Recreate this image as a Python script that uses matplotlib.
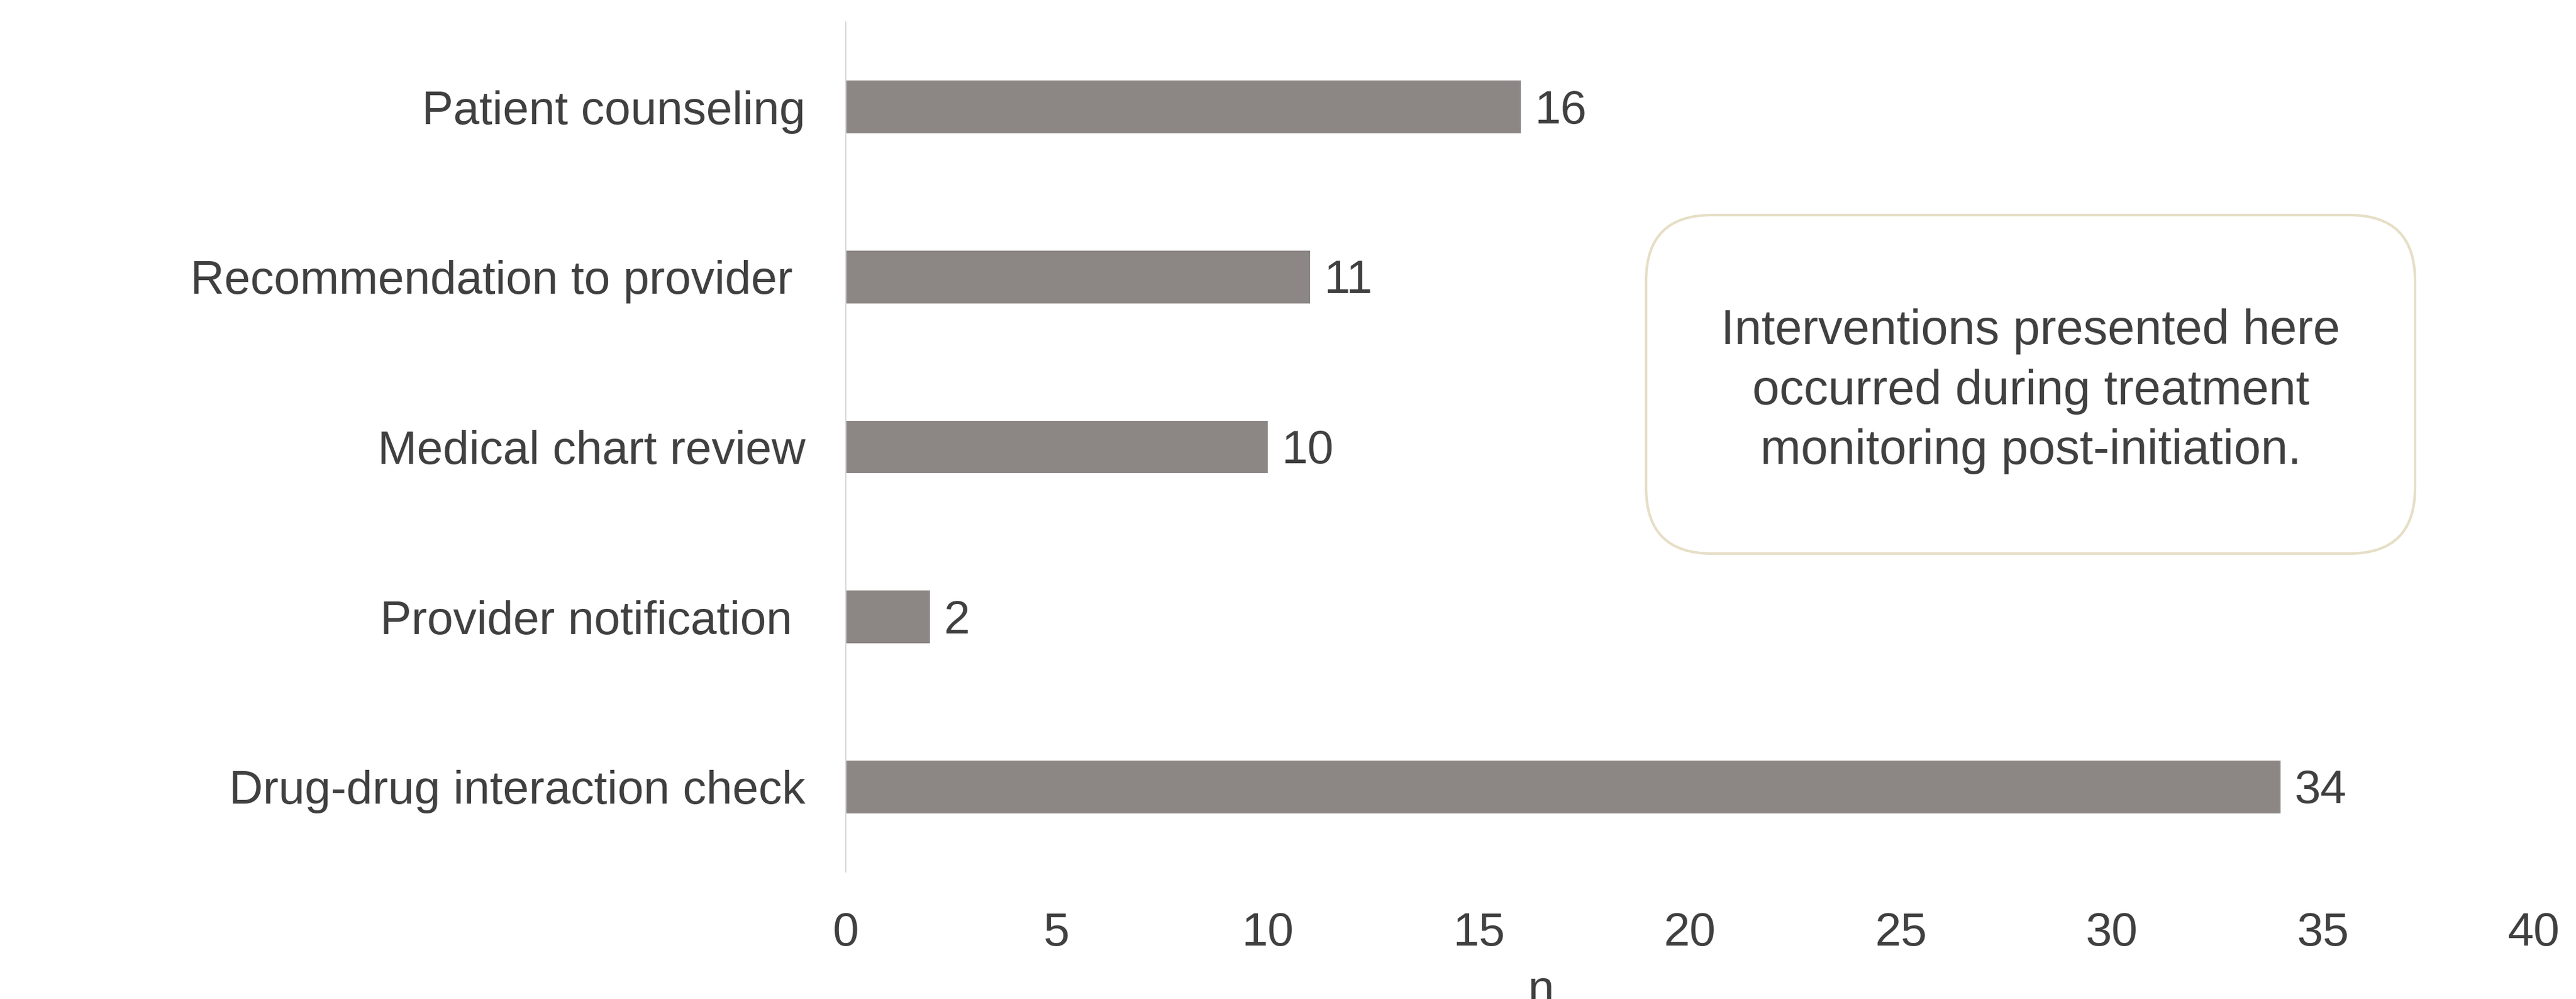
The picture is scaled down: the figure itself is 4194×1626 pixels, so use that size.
import matplotlib
matplotlib.use("Agg")
import matplotlib.pyplot as plt
from matplotlib.patches import FancyBboxPatch

# data
categories = ["Patient counseling", "Recommendation to provider ", "Medical chart review",
              "Provider notification ", "Drug-drug interaction check"]
counts = [16, 11, 10, 2, 34]
xticks = [0, 5, 10, 15, 20, 25, 30, 35, 40]
note = "Interventions presented here\noccurred during treatment\nmonitoring post-initiation."

text_col = "#404040"
bar_col = "#8C8685"

plt.rcParams['font.family'] = ['Liberation Sans', 'DejaVu Sans']

fig = plt.figure(figsize=(41.94, 16.26), dpi=100)
ax = fig.add_axes([0.3283, 0.1273, 0.6552, 0.8506])

ypos = list(range(len(categories)))
ax.barh(ypos, counts, height=0.31, color=bar_col)

# value labels
for y, v in zip(ypos, counts):
    ax.annotate(str(v), (v, y), xytext=(16, -5), textcoords="offset points",
                va="center", ha="left", fontsize=55, color=text_col)

ax.set_yticks(ypos)
ax.set_yticklabels(categories)
ax.set_ylim(-0.5, len(categories) - 0.5)
ax.invert_yaxis()
ax.set_xlim(0, 40)
ax.set_xticks(xticks)

ax.tick_params(axis="both", length=0, labelsize=55, labelcolor=text_col)
ax.tick_params(axis="x", pad=47)
ax.tick_params(axis="y", pad=47)

for s in ["top", "right", "bottom"]:
    ax.spines[s].set_visible(False)
ax.spines["left"].set_color("#D9D9D9")
ax.spines["left"].set_linewidth(1.5)

ax.set_xlabel("n", fontsize=55, color=text_col)
ax.xaxis.set_label_coords(0.412, -0.115)

# notitsruta
W, H = 4194, 1626
bx0, by0, bx1, by1 = 2680, 350, 3932, 901
r = 107
box = FancyBboxPatch((bx0 / W, 1 - by1 / H), (bx1 - bx0) / W, (by1 - by0) / H,
                     boxstyle="round,pad=0,rounding_size=%f" % (r / W),
                     mutation_aspect=W / H,
                     transform=fig.transFigure, facecolor="white",
                     edgecolor="#E6DEC6", linewidth=3)
fig.patches.append(box)
fig.text((bx0 + bx1) / 2 / W, 1 - 637 / H, note, ha="center", va="center",
         fontsize=57, color=text_col, linespacing=1.38)

fig.savefig("out.png", dpi=100)
